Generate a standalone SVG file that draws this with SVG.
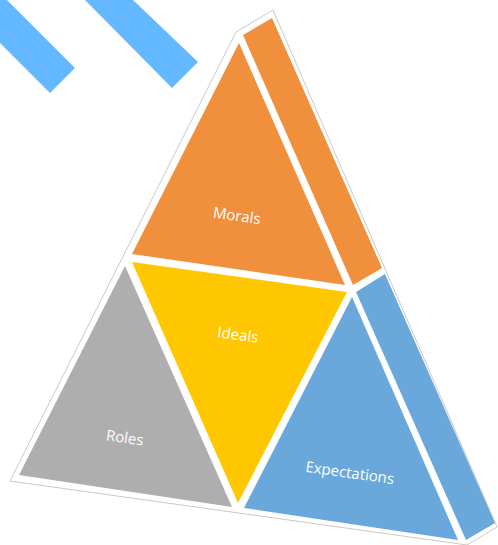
<svg xmlns="http://www.w3.org/2000/svg" width="498" height="545" viewBox="0 0 498 545">
  <style>
    .stripe { fill: #64B8FF; }
    .outline { fill: #ffffff; stroke: #c9c9c9; stroke-width: 1; stroke-linejoin: round; }
    .orange { fill: #F0903D; }
    .yellow { fill: #FFC700; }
    .gray { fill: #AEAEAE; }
    .blue { fill: #6AA8DB; }
    .label { font-family: "Open Sans", "Liberation Sans", sans-serif; font-size: 15px; fill: #ffffff; text-anchor: middle; dominant-baseline: central; }
  </style>

  <!-- decorative diagonal stripes -->
  <g id="stripes">
    <polygon class="stripe" points="7,0 75,68 50,93 0,43 0,0"/>
    <polygon class="stripe" points="85,0 133,0 198,62 172,88"/>
  </g>

  <!-- outer border of the pyramid -->
  <g id="frame">
    <polygon class="outline" points="236,32 273,10 497,527 467,545 10,481"/>
  </g>

  <g id="morals">
    <polygon class="orange" points="239,43 345,285 132,254"/>
    <text class="label" x="237" y="215" transform="rotate(8 237 215)">Morals</text>
  </g>

  <g id="morals-side">
    <polygon class="orange" points="243,35 272,18 382,268 353,285"/>
  </g>

  <g id="ideals">
    <polygon class="yellow" points="132,262 347,292 238,503"/>
    <text class="label" x="238" y="334" transform="rotate(8 238 334)">Ideals</text>
  </g>

  <g id="roles">
    <polygon class="gray" points="125,266 232,507 19,475"/>
    <text class="label" x="125" y="437" transform="rotate(8 125 437)">Roles</text>
  </g>

  <g id="expectations">
    <polygon class="blue" points="352,297 458,540 244,508"/>
    <text class="label" x="350" y="472" transform="rotate(8 350 472)">Expectations</text>
  </g>

  <g id="expectations-side">
    <polygon class="blue" points="356,292 385,274 495,523 466,540"/>
  </g>

  <g id="connectors"></g>
</svg>
